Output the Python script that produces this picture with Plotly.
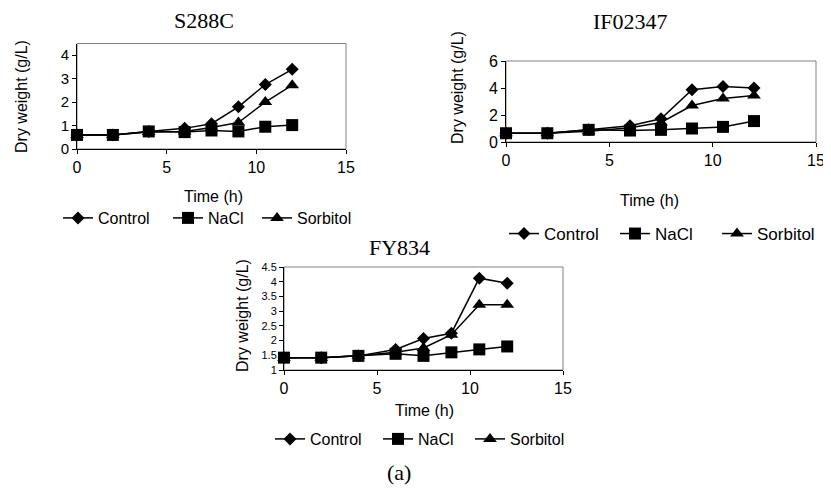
import plotly.graph_objects as go

time_h = [0, 2, 4, 6, 7.5, 9, 10.5, 12]
series_names = ["Control", "NaCl", "Sorbitol"]

s288c_control = [0.6, 0.6, 0.75, 0.88, 1.08, 1.8, 2.75, 3.4]
s288c_nacl = [0.6, 0.6, 0.75, 0.72, 0.79, 0.75, 0.95, 1.02]
s288c_sorbitol = [0.6, 0.6, 0.72, 0.75, 0.92, 1.13, 2.0, 2.72]

if02347_control = [0.65, 0.65, 0.9, 1.2, 1.72, 3.87, 4.12, 4.0]
if02347_nacl = [0.65, 0.65, 0.9, 0.85, 0.9, 1.0, 1.12, 1.55]
if02347_sorbitol = [0.65, 0.65, 0.8, 1.05, 1.45, 2.7, 3.22, 3.45]

fy834_control = [1.42, 1.42, 1.48, 1.7, 2.07, 2.25, 4.12, 3.95]
fy834_nacl = [1.42, 1.42, 1.48, 1.55, 1.48, 1.6, 1.7, 1.8]
fy834_sorbitol = [1.42, 1.42, 1.48, 1.6, 1.75, 2.2, 3.22, 3.22]

# the page body adds an 8px offset; compensate in the layout coordinates
PAGE_MARGIN = 8
W, H = 831, 488
def fx(px): return (px - PAGE_MARGIN) / W
def fy(py): return 1 - (py - PAGE_MARGIN) / H

SANS = "Arial, Liberation Sans"
SERIF = "Times New Roman, Liberation Serif"

panels = [
    dict(title="S288C", data=[s288c_control, s288c_nacl, s288c_sorbitol],
         box=(77, 346, 43.5, 149), yr=[0, 4.5], dt=1, ytf=15,
         title_xy=(203.5, 20.5), ylab_xy=(22, 97), xlab_xy=(213, 196),
         leg_xy=(58, 218), leg_w=[65, 44, 60], leg_f=16),
    dict(title="IF02347", data=[if02347_control, if02347_nacl, if02347_sorbitol],
         box=(506, 816, 61, 142), yr=[0, 6], dt=2, ytf=16,
         title_xy=(630, 21), ylab_xy=(458, 88), xlab_xy=(649, 200),
         leg_xy=(504, 234), leg_w=[66, 57, 68], leg_f=17),
    dict(title="FY834", data=[fy834_control, fy834_nacl, fy834_sorbitol],
         box=(284, 563, 267, 370), yr=[1, 4.5], dt=0.5, ytf=11,
         title_xy=(399, 247), ylab_xy=(242, 316), xlab_xy=(424, 410),
         leg_xy=(270, 439), leg_w=[63, 47, 60], leg_f=16),
]

symbols = ["diamond", "square", "triangle-up"]
msizes = [10, 12, 12]

fig = go.Figure()
annotations = []
shapes = []
layout = {}
for i, p in enumerate(panels):
    n = i + 1
    xa = "x" if n == 1 else f"x{n}"
    ya = "y" if n == 1 else f"y{n}"
    lg = "legend" if n == 1 else f"legend{n}"
    for k in range(3):
        fig.add_trace(go.Scatter(
            x=time_h, y=p["data"][k], name=series_names[k], mode="lines+markers",
            line=dict(color="black", width=1.5),
            marker=dict(symbol=symbols[k], size=msizes[k], color="black"),
            xaxis=xa, yaxis=ya, legend=lg, legendwidth=p["leg_w"][k], cliponaxis=False))
    x0, x1, y0, y1 = p["box"]
    layout[f"xaxis{n if n > 1 else ''}"] = dict(
        domain=[fx(x0), fx(x1)], range=[0, 15], dtick=5, tick0=0,
        showgrid=False, zeroline=False, showline=True, linecolor="black", linewidth=1,
        ticks="outside", ticklen=4, tickcolor="black", automargin=False,
        ticklabeloverflow="allow",
        tickfont=dict(family=SANS, size=16, color="black"),
        anchor=ya)
    layout[f"yaxis{n if n > 1 else ''}"] = dict(
        domain=[fy(y1), fy(y0)], range=p["yr"], dtick=p["dt"], tick0=0,
        showgrid=False, zeroline=False, showline=True, linecolor="black", linewidth=1,
        ticks="outside", ticklen=4, tickcolor="black", automargin=False,
        ticklabeloverflow="allow",
        tickfont=dict(family=SANS, size=p["ytf"], color="black"),
        anchor=xa)
    shapes.append(dict(type="rect", xref="paper", yref="paper",
                       x0=fx(x0), x1=fx(x1), y0=fy(y1), y1=fy(y0),
                       line=dict(color="#808080", width=1), layer="below"))
    tx, ty = p["title_xy"]
    annotations.append(dict(text=p["title"], x=fx(tx), y=fy(ty), xref="paper", yref="paper",
                            showarrow=False, xanchor="center", yanchor="middle",
                            font=dict(family=SERIF, size=22, color="black")))
    lx, ly = p["ylab_xy"]
    annotations.append(dict(text="Dry weight (g/L)", x=fx(lx), y=fy(ly), xref="paper", yref="paper",
                            showarrow=False, xanchor="center", yanchor="middle", textangle=-90,
                            font=dict(family=SANS, size=16, color="black")))
    xx, xy = p["xlab_xy"]
    annotations.append(dict(text="Time (h)", x=fx(xx), y=fy(xy), xref="paper", yref="paper",
                            showarrow=False, xanchor="center", yanchor="middle",
                            font=dict(family=SANS, size=16, color="black")))
    gx, gy = p["leg_xy"]
    layout[lg] = dict(orientation="h", x=fx(gx), y=fy(gy), xanchor="left", yanchor="middle",
                      xref="paper", yref="paper", bgcolor="rgba(0,0,0,0)",
                      font=dict(family=SANS, size=p["leg_f"], color="black"),
                      itemwidth=30, tracegroupgap=0)

annotations.append(dict(text="(a)", x=fx(399), y=fy(472), xref="paper", yref="paper",
                        showarrow=False, xanchor="center", yanchor="middle",
                        font=dict(family=SERIF, size=22, color="black")))

fig.update_layout(**layout)
fig.update_layout(width=W, height=H, margin=dict(l=0, r=0, t=0, b=0, autoexpand=False),
                  paper_bgcolor="white", plot_bgcolor="white",
                  annotations=annotations, shapes=shapes, showlegend=True)
fig.write_html("out.html")
